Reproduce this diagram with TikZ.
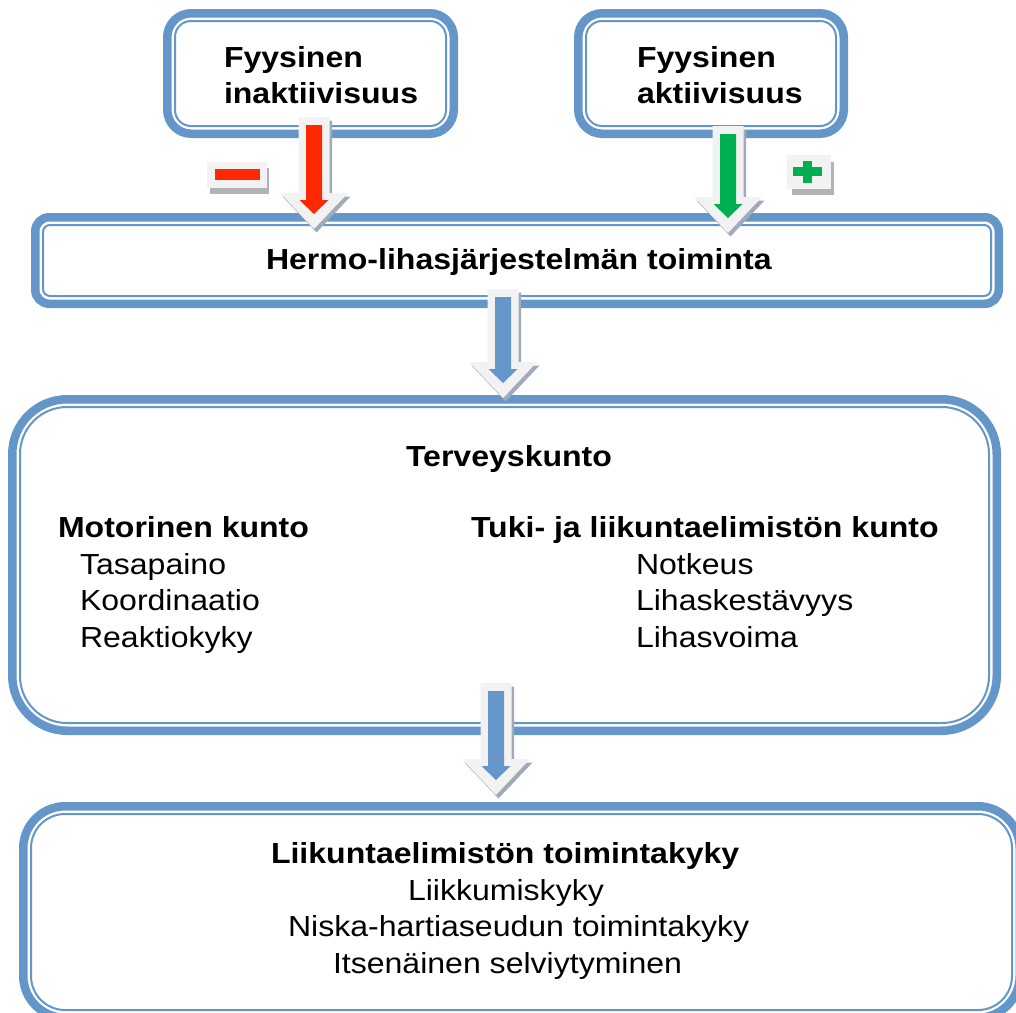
\documentclass[tikz,border=0pt]{standalone}
\usepackage{fontspec}
\setmainfont{Liberation Sans}[FakeStretch=1.105]
\usetikzlibrary{calc}
\definecolor{boxblue}{RGB}{100,150,201}
\definecolor{arrred}{RGB}{255,40,0}
\definecolor{arrgreen}{RGB}{0,176,80}
\definecolor{arrlight}{RGB}{242,242,242}
\definecolor{arrshadow}{RGB}{160,170,184}
\definecolor{signshadow}{RGB}{178,178,178}
\tikzset{
  outerbox/.style={rectangle, draw=boxblue, line width=8.5pt, fill=white, outer sep=0pt, inner sep=0pt},
  innerline/.style={draw=boxblue, line width=2pt},
  txt/.style={inner sep=0pt, outer sep=0pt, anchor=base west, font=\fontsize{29}{35}\selectfont},
  btxt/.style={txt, font=\fontsize{29}{35}\selectfont\bfseries},
}
\newcommand{\mydbox}[7]{%
  \node[outerbox, rounded corners=#6pt, minimum width=#4pt, minimum height=#5pt] (#1) at (#2,#3) {};
  \draw[innerline, rounded corners=#7pt] ([shift={(7.75,7.75)}]#1.north west) rectangle ([shift={(-7.75,-7.75)}]#1.south east);
}
\newcommand{\outerarrow}[2]{($(#1)+(-15.5,0)$) -- ($(#2)+(-15.5,-36)$) -- ($(#2)+(-34,-36)$) -- (#2) -- ($(#2)+(34,-36)$) -- ($(#2)+(15.5,-36)$) -- ($(#1)+(15.5,0)$) -- cycle}
\newcommand{\blockarrow}[3]{%
  \begin{scope}[transform canvas={shift={(2.5,3.5)}}]
    \fill[arrshadow] \outerarrow{#1}{#2};
  \end{scope}
  \fill[arrlight] \outerarrow{#1}{#2};
  \fill[#3] ($(#1)+(-8,8)$) -- ($(#2)+(-8,-29)$) -- ($(#2)+(-14.5,-29)$) -- ($(#2)+(0,-15)$) -- ($(#2)+(14.5,-29)$) -- ($(#2)+(8,-29)$) -- ($(#1)+(8,8)$) -- cycle;
}
\begin{document}
\begin{tikzpicture}[x=1pt,y=-1pt]
\useasboundingbox (0,0) rectangle (1016,1012);
\clip (0,0) rectangle (1016,1012);
\fill[white] (0,0) rectangle (1016,1012);

% boxes
\mydbox{inak}{310.5}{73.5}{286.5}{120.5}{24}{16}
\mydbox{akt}{711}{73.5}{265.5}{120.5}{24}{16}
\mydbox{hermo}{517}{260.5}{963.5}{86.5}{14}{7}
\mydbox{terv}{504.5}{565}{984.5}{331.5}{55}{47}
\mydbox{liik}{521.5}{912}{996.5}{211.5}{42}{34}

% texts
\node[btxt] (t1a) at (224,67) {Fyysinen};
\node[btxt] (t1b) at (224,103) {inaktiivisuus};
\node[btxt] (t2a) at (637,67) {Fyysinen};
\node[btxt] (t2b) at (637,103) {aktiivisuus};
\node[btxt] (t3) at (266,269) {Hermo-lihasjärjestelmän toiminta};
\node[btxt] (t4) at (406,466) {Terveyskunto};
\node[btxt] (t5) at (58,537) {Motorinen kunto};
\node[txt] (t5a) at (80,574) {Tasapaino};
\node[txt] (t5b) at (80,610) {Koordinaatio};
\node[txt] (t5c) at (80,647) {Reaktiokyky};
\node[btxt] (t6) at (471,537) {Tuki- ja liikuntaelimistön kunto};
\node[txt] (t6a) at (636,574) {Notkeus};
\node[txt] (t6b) at (636,610) {Lihaskestävyys};
\node[txt] (t6c) at (636,647) {Lihasvoima};
\node[btxt] (t7) at (271,863) {Liikuntaelimistön toimintakyky};
\node[txt] (t7a) at (408,900) {Liikkumiskyky};
\node[txt] (t7b) at (288,936) {Niska-hartiaseudun toimintakyky};
\node[txt] (t7c) at (333,973) {Itsenäinen selviytyminen};

% connector coordinates
\coordinate (ra) at ($(inak.south)+(3.5,-16.75)$);
\coordinate (rb) at ($(hermo.north)+(-203,11.75)$);
\coordinate (ga) at ($(akt.south)+(17,-7.75)$);
\coordinate (gb) at ($(hermo.north)+(211,15.75)$);
\coordinate (ba) at ($(hermo.south)+(-14,-14.75)$);
\coordinate (bb) at ($(terv.north)+(-1.5,-1.25)$);
\coordinate (ca) at ($(terv.south)+(-8.5,-47.75)$);
\coordinate (cb) at ($(liik.north)+(-25.5,-11.25)$);

\blockarrow{ra}{rb}{arrred}
\blockarrow{ga}{gb}{arrgreen}
\blockarrow{ba}{bb}{boxblue}
\blockarrow{ca}{cb}{boxblue}

% minus sign
\fill[signshadow] (210,168) rectangle (269,194);
\fill[arrlight] (207,162) rectangle (267,188);
\fill[arrred] (215,169) rectangle (260,180);

% plus sign
\fill[signshadow] (792,162) rectangle (834,195);
\fill[arrlight] (787,155) rectangle (831,189);
\fill[arrgreen] (793,167) rectangle (822,176);
\fill[arrgreen] (803,161) rectangle (812,183);
\end{tikzpicture}
\end{document}
